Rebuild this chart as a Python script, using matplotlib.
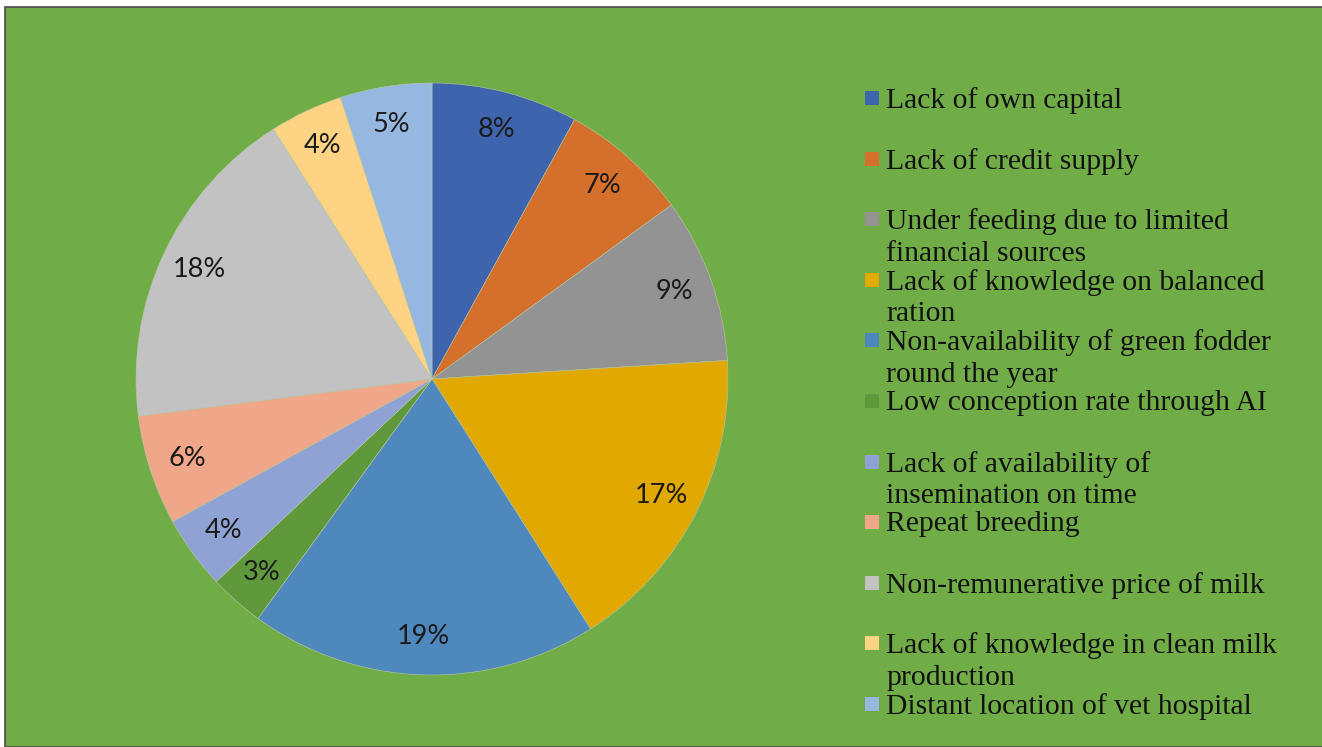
import matplotlib
matplotlib.use('Agg')
import matplotlib.pyplot as plt
from matplotlib.patches import Rectangle

# data
labels = ['Lack of own capital',
          'Lack of credit supply',
          'Under feeding due to limited\nfinancial sources',
          'Lack of knowledge on balanced\nration',
          'Non-availability of green fodder\nround the year',
          'Low conception rate through AI',
          'Lack of availability of\ninsemination on time',
          'Repeat breeding',
          'Non-remunerative price of milk',
          'Lack of knowledge in clean milk\nproduction',
          'Distant location of vet hospital']
values = [8, 7, 9, 17, 19, 3, 4, 6, 18, 4, 5]
colors = ['#3E64AE', '#D4702B', '#939393', '#E0A800', '#4F88BD', '#5F993C',
          '#8FA2D4', '#F0A689', '#C2C2C2', '#FFD384', '#96B7DF']

W, H = 1322, 747
fig = plt.figure(figsize=(W / 100, H / 100), dpi=100, facecolor='white')

# green chart area with thin dark border
fig.patches.append(Rectangle((5 / W, 0), 1 - 5 / W + 0.01, 1 - 7 / H,
                             transform=fig.transFigure, facecolor='#70AD47',
                             edgecolor='#4a4a4a', linewidth=1.2, zorder=-5))

# pie axes: centre (432, 379) px, radius 296 px
cx, cy, r = 432, 379, 296
ax = fig.add_axes([(cx - r) / W, (H - cy - r) / H, 2 * r / W, 2 * r / H])
ax.set_zorder(1)
ax.set_facecolor('none')
wedges, texts, autotexts = ax.pie(values, colors=colors, startangle=90,
                                  counterclock=False, autopct='%1.0f%%',
                                  pctdistance=0.87, radius=1,
                                  wedgeprops=dict(linewidth=0.4, edgecolor='#b8c8a8'),
                                  textprops=dict(fontsize=19.5, color='#1a1a1a',
                                                 family='Lato'))
ax.set_xlim(-1, 1)
ax.set_ylim(-1, 1)
ax.set_aspect('equal')
ax.axis('off')

# legend drawn by hand
y0, step = 98, 60.6
for i, (lab, col) in enumerate(zip(labels, colors)):
    yc = y0 + i * step
    fig.patches.append(Rectangle((865 / W, 1 - (yc + 7) / H), 14 / W, 14 / H,
                                 transform=fig.transFigure, facecolor=col,
                                 edgecolor='none', zorder=2))
    fig.text(886 / W, 1 - (yc - 11) / H, lab, fontsize=21.3, family='Liberation Serif',
             color='#111111', va='top', ha='left', linespacing=1.28)

plt.savefig('out.png', dpi=100, facecolor=fig.get_facecolor())
